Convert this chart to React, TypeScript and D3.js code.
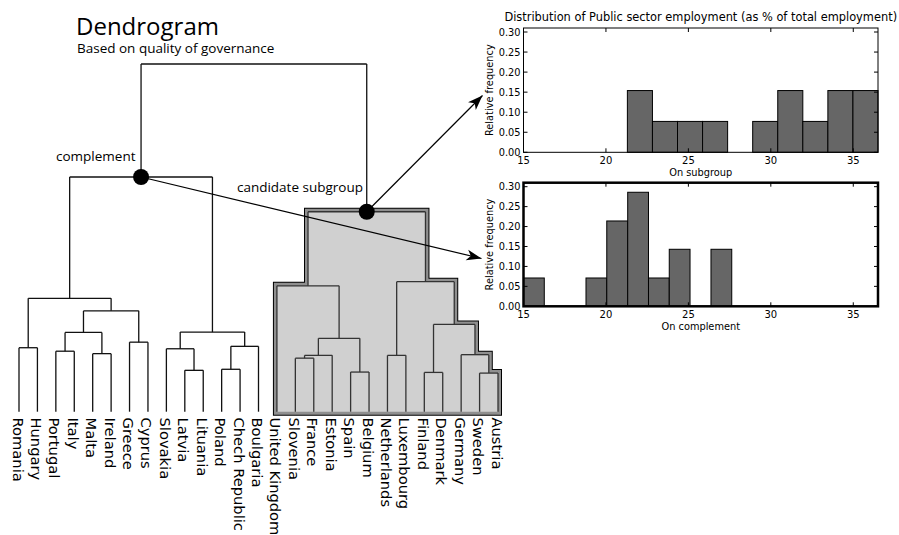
import React from "react";
import * as d3 from "d3";

// ---------- data ----------
const leaves = [
  "Romania", "Hungary", "Portugal", "Italy", "Malta", "Ireland", "Greece", "Cyprus",
  "Slovakia", "Latvia", "Lituania", "Poland", "Chech Republic", "Boulgaria",
  "United Kingdom", "Slovenia", "France", "Estonia", "Spain", "Belgium",
  "Netherlands", "Luxembourg", "Finland", "Denmark", "Germany", "Sweden", "Austria",
];

type T = string | { h: number; c: [T, T] };
const n = (h: number, a: T, b: T): T => ({ h, c: [a, b] });

const complementTree: T = n(6.75,
  n(3.26,
    n(1.84, "Romania", "Hungary"),
    n(2.9,
      n(2.28, n(1.74, "Portugal", "Italy"), n(1.67, "Malta", "Ireland")),
      n(2.0, "Greece", "Cyprus"))),
  n(2.29,
    n(1.81, "Slovakia", n(1.19, "Latvia", "Lituania")),
    n(1.88, n(1.22, "Poland", "Chech Republic"), "Boulgaria")));

const subgroupTree: T = n(5.75,
  n(3.62, "United Kingdom",
    n(2.11,
      n(1.62, n(1.54, "Slovenia", "France"), "Estonia"),
      n(1.14, "Spain", "Belgium"))),
  n(3.74,
    n(1.62, "Netherlands", "Luxembourg"),
    n(2.51,
      n(1.13, "Finland", "Denmark"),
      n(1.64, "Germany", n(1.11, "Sweden", "Austria")))));

const rootHeight = 10;

const subgroupEdges = [21.3, 22.82, 24.34, 25.86, 27.38, 28.9, 30.42, 31.94, 33.46, 34.98, 36.5];
const subgroupFreq = [0.154, 0.077, 0.077, 0.077, 0, 0.077, 0.154, 0.077, 0.154, 0.154];
const complementEdges = [15.0, 16.26, 17.53, 18.79, 20.05, 21.32, 22.58, 23.84, 25.1, 26.37, 27.63];
const complementFreq = [0.071, 0, 0, 0.071, 0.214, 0.286, 0.071, 0.143, 0, 0.143];
const xTicks = [15, 20, 25, 30, 35];
const yTicks = [0, 0.05, 0.1, 0.15, 0.2, 0.25, 0.3];

// ---------- scales ----------
const xLeaf = d3.scalePoint<string>().domain(leaves).range([19, 498]);
const yDist = d3.scaleLinear().domain([0, rootHeight]).range([411.7, 64]);

const xHist = d3.scaleLinear().domain([15, 36.5]).range([523.5, 878]);

type Seg = { x0: number; y0: number; x1: number; y1: number };

function layout(t: T, segs: Seg[], bars: { x0: number; x1: number; y: number }[]): { x: number; y: number } {
  if (typeof t === "string") return { x: xLeaf(t)!, y: yDist(0) };
  const a = layout(t.c[0], segs, bars);
  const b = layout(t.c[1], segs, bars);
  const y = yDist(t.h);
  segs.push({ x0: a.x, y0: a.y, x1: a.x, y1: y });
  segs.push({ x0: b.x, y0: b.y, x1: b.x, y1: y });
  segs.push({ x0: a.x, y0: y, x1: b.x, y1: y });
  bars.push({ x0: a.x, x1: b.x, y });
  return { x: (a.x + b.x) / 2, y };
}

function Hist({ top, bottom, edges, freq, xlabel, thick, title }: any) {
  const y = d3.scaleLinear().domain([0, 0.31]).range([bottom, top]);
  const [L, R] = xHist.range();
  const tl = 4;
  return (
    <g fontFamily="DejaVu Sans" fill="#000">
      {title && (
        <text x={(L + R) / 2} y={top - 7} fontSize={11.4} textAnchor="middle">{title}</text>
      )}
      {freq.map((f: number, i: number) =>
        f > 0 ? (
          <rect key={i} x={xHist(edges[i])} y={y(f)} width={xHist(edges[i + 1]) - xHist(edges[i])}
            height={y(0) - y(f)} fill="#666666" stroke="#000" strokeWidth={1} />
        ) : null
      )}
      <rect x={L} y={top} width={R - L} height={bottom - top} fill="none" stroke="#000"
        strokeWidth={thick ? 2.5 : 1} />
      {xTicks.map((t) => (
        <g key={t}>
          <line x1={xHist(t)} x2={xHist(t)} y1={bottom} y2={bottom - tl} stroke="#000" />
          <line x1={xHist(t)} x2={xHist(t)} y1={top} y2={top + tl} stroke="#000" />
          <text x={xHist(t)} y={bottom + 11.5} fontSize={10} textAnchor="middle">{t}</text>
        </g>
      ))}
      {yTicks.map((t) => (
        <g key={t}>
          <line x1={L} x2={L + tl} y1={y(t)} y2={y(t)} stroke="#000" />
          <line x1={R} x2={R - tl} y1={y(t)} y2={y(t)} stroke="#000" />
          <text x={L - 3} y={y(t) + 3.5} fontSize={9.8} textAnchor="end">{t.toFixed(2)}</text>
        </g>
      ))}
      <text x={(L + R) / 2} y={bottom + 24} fontSize={9.8} textAnchor="middle">{xlabel}</text>
      <text transform={`translate(${L - 31},${(top + bottom) / 2}) rotate(-90)`} fontSize={9.8}
        textAnchor="middle">Relative frequency</text>
    </g>
  );
}

function arrowHead(x0: number, y0: number, x1: number, y1: number) {
  const a = Math.atan2(y1 - y0, x1 - x0);
  const len = 15, hw = 5.5, notch = 11;
  const pt = (l: number, w: number) => [x1 - l * Math.cos(a) - w * Math.sin(a), y1 - l * Math.sin(a) + w * Math.cos(a)];
  const p = [[x1, y1], pt(len, hw), pt(notch, 0), pt(len, -hw)];
  return "M" + p.map((q) => q.join(",")).join("L") + "Z";
}

export default function App() {
  const compSegs: Seg[] = [];
  const compBars: any[] = [];
  const subSegs: Seg[] = [];
  const subBars: any[] = [];
  const c = layout(complementTree, compSegs, compBars);
  const s = layout(subgroupTree, subSegs, subBars);
  const yRoot = yDist(rootHeight);

  // skyline of the subgroup
  const subLeaves = leaves.slice(14);
  const xL = xLeaf(subLeaves[0])!;
  const xR = xLeaf(subLeaves[subLeaves.length - 1])!;
  const xs = Array.from(new Set([xL, xR, ...subBars.flatMap((b) => [b.x0, b.x1])])).sort((a, b) => a - b)
    .filter((x) => x >= xL && x <= xR);
  const pts: number[][] = [[xL, yDist(0)]];
  for (let i = 0; i < xs.length - 1; i++) {
    const m = (xs[i] + xs[i + 1]) / 2;
    const top = d3.min(subBars.filter((b) => b.x0 <= m && b.x1 >= m), (b: any) => b.y) ?? yDist(0);
    pts.push([xs[i], top], [xs[i + 1], top]);
  }
  pts.push([xR, yDist(0)]);
  const poly = "M" + pts.map((p) => p.join(",")).join("L") + "Z";

  const tip1 = [482.5, 95.5];
  const tip2 = [481.5, 258.5];

  return (
    <svg width={899} height={535} style={{ position: "absolute", left: 0, top: 0, background: "#fff" }}>
      <text x={76} y={35} fontFamily="Open Sans" fontSize={24} fill="#000">Dendrogram</text>
      <text x={77} y={52.5} fontFamily="Open Sans" fontSize={13.5} fill="#000">Based on quality of governance</text>

      {/* halo */}
      <path d={poly} fill="none" stroke="#000" strokeWidth={8} strokeLinejoin="miter" />
      <path d={poly} fill="none" stroke="#8f8f8f" strokeWidth={6} strokeLinejoin="miter" />
      <path d={poly} fill="#d0d0d0" stroke="none" />

      <g stroke="#111" strokeWidth={1.3} fill="none">
        {compSegs.map((g, i) => <line key={i} x1={g.x0} y1={g.y0} x2={g.x1} y2={g.y1} />)}
        <line x1={c.x} y1={c.y} x2={c.x} y2={yRoot} />
        <line x1={s.x} y1={s.y} x2={s.x} y2={yRoot} />
        <line x1={c.x} y1={yRoot} x2={s.x} y2={yRoot} />
      </g>
      <g stroke="#333" strokeWidth={1.3} fill="none">
        {subSegs.map((g, i) => <line key={i} x1={g.x0} y1={g.y0} x2={g.x1} y2={g.y1} />)}
      </g>

      {leaves.map((l) => (
        <text key={l} transform={`translate(${xLeaf(l)! - 6.5},417.5) rotate(90)`} fontFamily="DejaVu Sans"
          fontSize={14.7} fill="#000">{l}</text>
      ))}

      {/* arrows */}
      <line x1={s.x} y1={s.y} x2={tip1[0]} y2={tip1[1]} stroke="#000" strokeWidth={1.2} />
      <path d={arrowHead(s.x, s.y, tip1[0], tip1[1])} fill="#000" />
      <line x1={c.x} y1={c.y} x2={tip2[0]} y2={tip2[1]} stroke="#000" strokeWidth={1.2} />
      <path d={arrowHead(c.x, c.y, tip2[0], tip2[1])} fill="#000" />

      <circle cx={c.x} cy={c.y} r={8} fill="#000" />
      <circle cx={s.x} cy={s.y} r={8} fill="#000" />

      <text x={56} y={160.5} fontFamily="Open Sans" fontSize={13.5} fill="#000">complement</text>
      <text x={363} y={192} fontFamily="Open Sans" fontSize={13.5} fill="#000" textAnchor="end">candidate subgroup</text>

      <Hist top={28} bottom={152.3} edges={subgroupEdges} freq={subgroupFreq} xlabel="On subgroup"
        title="Distribution of Public sector employment (as % of total employment)" />
      <Hist top={182.7} bottom={306.3} edges={complementEdges} freq={complementFreq} xlabel="On complement" thick />
    </svg>
  );
}
